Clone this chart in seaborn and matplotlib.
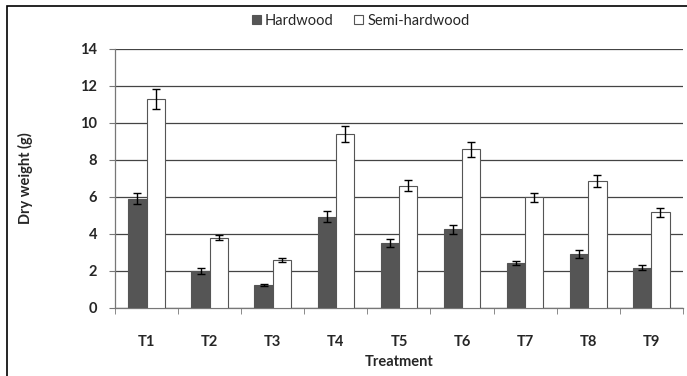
import numpy as np
import pandas as pd
import seaborn as sns
import matplotlib.pyplot as plt
from matplotlib.patches import Patch, Rectangle
from matplotlib.ticker import FixedLocator

# Datos del grafico
tratamientos = ["T1", "T2", "T3", "T4", "T5", "T6", "T7", "T8", "T9"]
hardwood = [5.9, 2.0, 1.22, 4.93, 3.5, 4.25, 2.44, 2.92, 2.18]
hardwood_err = [0.3, 0.15, 0.05, 0.3, 0.22, 0.23, 0.1, 0.2, 0.15]
semi = [11.3, 3.8, 2.58, 9.4, 6.6, 8.58, 5.98, 6.86, 5.18]
semi_err = [0.55, 0.13, 0.1, 0.45, 0.3, 0.4, 0.25, 0.33, 0.24]
series = ["Hardwood", "Semi-hardwood"]

df = pd.DataFrame({
    "Treatment": tratamientos * 2,
    "Serie": [series[0]] * 9 + [series[1]] * 9,
    "Dry": hardwood + semi,
    "Err": hardwood_err + semi_err,
})

sns.set_style("white")
plt.rcParams["font.family"] = ["Lato", "DejaVu Sans"]

fig = plt.figure(figsize=(6.87, 3.76), dpi=100)
ax = fig.add_axes([0.1674, 0.181, 0.8266, 0.6888])

colores = {"Hardwood": "#555555", "Semi-hardwood": "#ffffff"}
sns.barplot(data=df, x="Treatment", y="Dry", hue="Serie", palette=colores,
            errorbar=None, width=0.58, gap=0, edgecolor="#555555",
            linewidth=0.8, legend=False, ax=ax, zorder=3)

# Barras de error sobre cada barra
for serie, cont in zip(series, ax.containers):
    errs = df[df["Serie"] == serie]["Err"].values
    xs = [p.get_x() + p.get_width() / 2 for p in cont.patches]
    hs = [p.get_height() for p in cont.patches]
    ax.errorbar(xs, hs, yerr=errs, fmt="none", ecolor="black",
                elinewidth=1.0, capsize=3, capthick=1.0, zorder=4)

ax.set_ylim(0, 14)
ax.set_xlim(-0.5, 8.5)
ax.set_yticks(np.arange(0, 15, 2))
ax.yaxis.grid(True, color="#444444", linewidth=0.9, zorder=0)
ax.set_axisbelow(True)

for s in ["top", "right"]:
    ax.spines[s].set_visible(False)
for s in ["left", "bottom"]:
    ax.spines[s].set_color("#777777")
    ax.spines[s].set_linewidth(0.9)

ax.tick_params(axis="y", left=True, length=4, color="#777777", labelsize=10.5, pad=9)
ax.tick_params(axis="x", bottom=False, labelsize=10.5, pad=16)
ax.xaxis.set_minor_locator(FixedLocator(np.arange(-0.5, 9, 1)))
ax.tick_params(axis="x", which="minor", bottom=True, length=4, color="#777777")
for lab in ax.get_xticklabels() + ax.get_yticklabels():
    lab.set_fontweight("bold")

ax.set_xlabel("Treatment", fontsize=10.5, fontweight="bold", labelpad=4)
ax.set_ylabel("Dry weight (g)", fontsize=10.5, fontweight="bold", labelpad=34)

handles = [Patch(facecolor=colores[s], edgecolor="#555555", linewidth=0.8, label=s)
           for s in series]
fig.legend(handles=handles, loc="center", bbox_to_anchor=(0.525, 0.945),
           ncol=2, frameon=False, fontsize=10.5, handlelength=0.6,
           handleheight=0.6, handletextpad=0.3, columnspacing=1.4)

# Marco exterior de la figura
fig.patches.append(Rectangle((0.01, -0.01), 1.0, 0.995, transform=fig.transFigure,
                             fill=False, edgecolor="black", linewidth=1.2))

fig.savefig("out.png", dpi=100)
